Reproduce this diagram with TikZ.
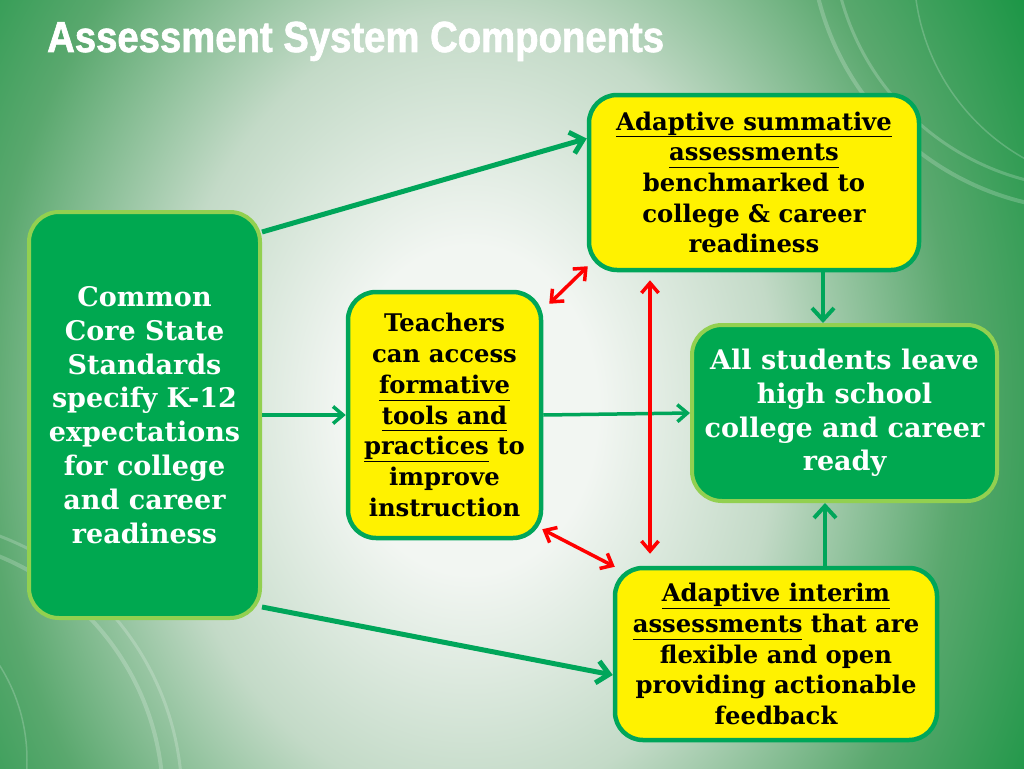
\documentclass[tikz,border=0pt]{standalone}
\usepackage{fontspec}
\setmainfont{DejaVu Serif}
\newfontfamily\titlefont[FakeBold=1.5,FakeStretch=0.88]{Liberation Sans}
\usetikzlibrary{arrows.meta}

\definecolor{bggreen}{RGB}{28,150,70}
\definecolor{bgmid}{RGB}{90,168,110}
\definecolor{bgpale}{RGB}{195,218,199}
\definecolor{bglight}{RGB}{242,246,242}
\definecolor{boxgreen}{RGB}{0,168,80}
\definecolor{rimgreen}{RGB}{146,208,80}
\definecolor{linkgreen}{RGB}{0,166,90}
\definecolor{hotred}{RGB}{255,0,0}

\pgfdeclareradialshading{slidebg}{\pgfpoint{0bp}{0bp}}{color(0bp)=(bglight); color(5bp)=(bglight); color(12bp)=(bgpale); color(19bp)=(bgmid); color(25bp)=(bggreen); color(50bp)=(bggreen)}

\newcommand{\ulin}[1]{\underline{#1\vphantom{p}}}

\tikzset{
  ybox/.style={draw=linkgreen, line width=4.5pt, fill=yellow, rounded corners=28pt, align=center, text=black, font=\fontsize{24.3}{30.7}\selectfont\bfseries},
  gbox/.style={draw=rimgreen, line width=4pt, fill=boxgreen, rounded corners=30pt, align=center, text=white, font=\fontsize{27}{33.8}\selectfont\bfseries},
  link/.style={->, draw=linkgreen, line width=5pt, >={Straight Barb[length=12pt,width=22pt]}},
  thinlink/.style={->, draw=linkgreen, line width=3.5pt, >={Straight Barb[length=10pt,width=17pt]}},
  twoway/.style={<->, draw=hotred, line width=3.5pt, >={Straight Barb[length=10pt,width=17pt]}},
  ring/.style={draw=white, draw opacity=0.2}
}

\begin{document}
\begin{tikzpicture}[x=1pt, y=-1pt]
  \useasboundingbox (0,0) rectangle (1024,768);
  % background
  \begin{scope}
    \clip (0,0) rectangle (1024,768);
    \fill[bggreen] (0,0) rectangle (1024,768);
    \shade[shading=slidebg] (470,410) ellipse [x radius=640, y radius=820];
    \draw[ring, line width=4pt] (1090,-70) circle (280);
    \draw[ring, line width=3pt] (1090,-70) circle (258);
    \draw[ring, line width=1.5pt] (1130,-30) circle (216);
    \draw[ring, line width=4pt] (-100,800) circle (263);
    \draw[ring, line width=3pt] (-100,800) circle (282);
    \draw[ring, line width=1.5pt] (-150,760) circle (177);
  \end{scope}

  \node[anchor=base west, text=white, font=\titlefont\fontsize{43.5}{45}\selectfont\bfseries, inner sep=0pt] (Title) at (47,52) {Assessment System Components};

  \node[gbox, minimum width=231pt, minimum height=406pt] (Standards) at (144.5,415) {Common\\Core State\\Standards\\specify K-12\\expectations\\for college\\and career\\readiness};
  \node[ybox, minimum width=193pt, minimum height=246pt] (Teachers) at (444.5,415) {Teachers\\can access\\\ulin{formative}\\\ulin{tools and}\\\ulin{practices} to\\improve\\instruction};
  \node[ybox, minimum width=330pt, minimum height=175pt] (Summative) at (754,182.5) {\ulin{Adaptive summative}\\\ulin{assessments}\\benchmarked to\\college \& career\\readiness};
  \node[gbox, minimum width=305pt, minimum height=176pt] (Ready) at (844.5,413) {All students leave\\high school\\college and career\\ready};
  \node[ybox, minimum width=322pt, minimum height=172pt] (Interim) at (776,654) {\ulin{Adaptive interim}\\\ulin{assessments} that are\\flexible and open\\providing actionable\\feedback};

  \draw[link] ([yshift=183pt]Standards.east) to ([yshift=44pt]Summative.west);
  \draw[link] ([yshift=-192pt]Standards.east) to ([yshift=-21pt]Interim.west);
  \draw[thinlink] (Standards.east) to (Teachers.west);
  \draw[thinlink] (Teachers.east) to (Ready.west);
  \draw[link, line width=4pt] ([xshift=69pt]Summative.south) to ([xshift=-21.5pt]Ready.north);
  \draw[link, line width=4pt] ([xshift=49pt]Interim.north) to ([xshift=-19.5pt]Ready.south);

  \draw[twoway] ([xshift=6pt,yshift=-14pt]Teachers.north east) to ([xshift=1pt,yshift=6pt]Summative.south west);
  \draw[twoway] ([xshift=-104pt,yshift=-8pt]Summative.south) to ([xshift=-126pt,yshift=12pt]Interim.north);
  \draw[twoway] ([xshift=-1pt,yshift=11pt]Teachers.south east) to ([xshift=2pt,yshift=-1pt]Interim.north west);
\end{tikzpicture}
\end{document}
